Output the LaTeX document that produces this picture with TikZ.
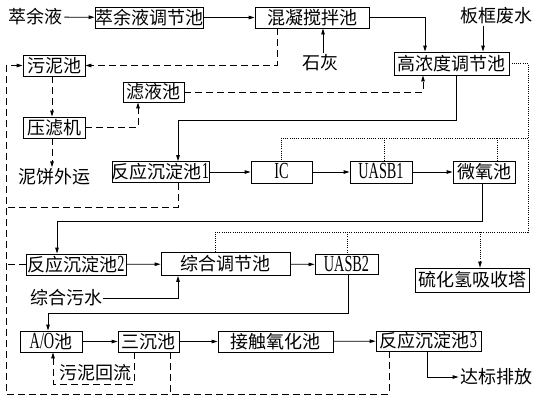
\documentclass[tikz,border=0pt]{standalone}
\usepackage{fontspec}
\usepackage{graphicx}
\setmainfont{Liberation Serif}
\newfontfamily\cjk{Noto Sans CJK SC}
\usetikzlibrary{arrows.meta}
\newcommand{\lat}[1]{{\rmfamily\fontsize{23}{23}\selectfont\scalebox{0.62}[1]{#1}}}

\begin{document}
\begin{tikzpicture}[x=1pt,y=-1pt,line width=0.8pt,
	>={Triangle[length=6pt,width=3.5pt]},
	font=\cjk\fontsize{18}{18}\selectfont,
	box/.style={draw,inner sep=0pt,minimum height=21pt,text height=15pt,text depth=1.5pt},
	word/.style={inner sep=1pt,text height=15pt,text depth=1.5pt},
	dash line/.style={dash pattern=on 7pt off 4pt},
	dot line/.style={line width=0.6pt,dash pattern=on 0.8pt off 1.4pt}]
	\useasboundingbox (0,0) rectangle (540,400);
	% nodes
	\node[word] (cyy) at (36,17) {萃余液};
	\node[box,minimum width=108pt] (cyytj) at (149,17.5) {萃余液调节池};
	\node[box,minimum width=114pt] (hnjb) at (312,17.5) {混凝搅拌池};
	\node[word] (bkfs) at (496,16) {板框废水};
	\node[word] (sh) at (320,63) {石灰};
	\node[box,minimum width=115pt,minimum height=23pt] (gnd) at (451.5,63.5) {高浓度调节池};
	\node[box,minimum width=62pt] (wnc) at (54,65.5) {污泥池};
	\node[box,minimum width=61pt,minimum height=20pt] (lyc) at (153.5,92) {滤液池};
	\node[box,minimum width=62pt] (ylj) at (54,127.5) {压滤机};
	\node[word] (nbwy) at (54,177) {泥饼外运};
	\node[box,minimum width=97pt] (fy1) at (160.5,172) {反应沉淀池\lat{1}};
	\node[box,minimum width=61pt,minimum height=22pt] (ic) at (281.5,172) {\lat{IC}};
	\node[box,minimum width=62pt,minimum height=22pt] (uasb1) at (381,172) {\lat{UASB1}};
	\node[box,minimum width=62pt,minimum height=22pt] (wyc) at (484,172) {微氧池};
	\node[box,minimum width=100pt] (fy2) at (76,264.5) {反应沉淀池\lat{2}};
	\node[box,minimum width=129pt,minimum height=23pt] (zhtj) at (225.5,264) {综合调节池};
	\node[box,minimum width=63pt,minimum height=20pt] (uasb2) at (346.5,264.5) {\lat{UASB2}};
	\node[box,minimum width=114pt,minimum height=24pt] (lhq) at (472,280) {硫化氢吸收塔};
	\node[word] (zhws) at (66,298) {综合污水};
	\node[box,minimum width=62pt] (ao) at (51,341.5) {\lat{A/O}池};
	\node[box,minimum width=61pt] (sc) at (148.5,341.5) {三沉池};
	\node[box,minimum width=115pt] (jc) at (275.5,341.5) {接触氧化池};
	\node[box,minimum width=105pt,minimum height=20pt] (fy3) at (428.5,341) {反应沉淀池\lat{3}};
	\node[word] (wnhl) at (95,373) {污泥回流};
	\node[word] (dbpf) at (496,377) {达标排放};

	% water line
	\draw[->] (cyy) -- (cyytj);
	\draw[->] (cyytj) -- (hnjb);
	\draw[->] (hnjb.east) -| (425,0 |- gnd.north);
	\draw[->] (483,0 |- bkfs.south) -- (483,0 |- gnd.north);
	\draw[->] (323,0 |- sh.north) -- (323,0 |- hnjb.south);
	\draw[->] (456,0 |- gnd.south) -- (456,120) -| (178,0 |- fy1.north);
	\draw[->] (fy1) -- (ic);
	\draw[->] (ic) -- (uasb1);
	\draw[->] (uasb1) -- (wyc);
	\draw[->] (482,0 |- wyc.south) -- (482,221) -| (57,0 |- fy2.north);
	\draw[->] (fy2) -- (zhtj);
	\draw[->] (zhtj) -- (uasb2);
	\draw[->] (zhws.east) -| (178,0 |- zhtj.south);
	\draw[->] (348,0 |- uasb2.south) -- (348,313) -| (48,0 |- ao.north);
	\draw[->] (ao) -- (sc);
	\draw[->] (sc) -- (jc);
	\draw[->] (jc) -- (fy3);
	\draw[->] (427,0 |- fy3.south) |- (dbpf.west);

	% sludge line
	\draw[dash line,->] (52,0 |- wnc.south) -- (52,0 |- ylj.north);
	\draw[dash line,->] (52,0 |- ylj.south) -- (52,0 |- nbwy.north);
	\draw[dash line,->] (ylj.east) -| (138,0 |- lyc.south);
	\draw[dash line,->] (lyc.east) -| (423,0 |- gnd.south);
	\draw[dash line,->] (277,0 |- hnjb.south) |- (wnc.east);
	\draw[dash line,->] (389,0 |- fy3.south) |- (6,394) |- (wnc.west);
	\draw[dash line] (170,0 |- sc.south) -- (170,394);
	\draw[dash line] (178,0 |- fy1.south) |- (6,207);
	\draw[dash line] (fy2.west) -- (6,0 |- fy2.west);
	\draw[dash line,->] (134,0 |- sc.south) |- (53,384) -- (53,0 |- ao.south);

	% gas line
	\draw[dot line] (gnd.east) -| (528,232) -- (215,232) -- (215,0 |- zhtj.north);
	\draw[dot line] (528,138) -- (281,138) -- (281,0 |- ic.north);
	\draw[dot line] (384,138) -- (384,0 |- uasb1.north);
	\draw[dot line] (497,138) -- (497,0 |- wyc.north);
	\draw[dot line] (347,232) -- (347,0 |- uasb2.north);
	\draw[dot line,->] (480,232) -- (480,0 |- lhq.north);
\end{tikzpicture}
\end{document}
